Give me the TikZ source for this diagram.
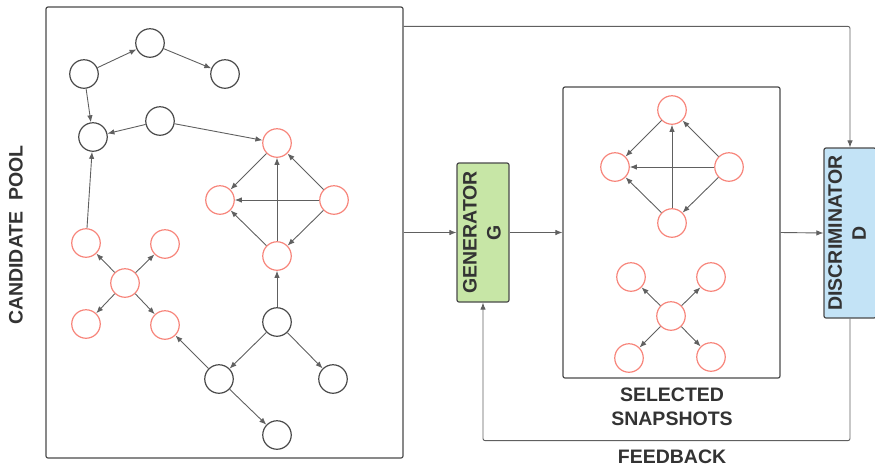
\documentclass[tikz,border=0pt]{standalone}
\usepackage{fontspec}
\setmainfont{Liberation Sans}
\usetikzlibrary{arrows.meta}
\definecolor{linec}{HTML}{606060}
\definecolor{blkc}{HTML}{4A4A4A}
\definecolor{salmon}{HTML}{F7857B}
\definecolor{genfill}{HTML}{C7E6A6}
\definecolor{disfill}{HTML}{C3E3F6}
\definecolor{txtc}{HTML}{333333}
\begin{document}
\begin{tikzpicture}[x=1pt,y=-1pt,
  bn/.style={circle,draw=blkc,line width=1.2pt,minimum size=28.5pt,inner sep=0pt},
  rn/.style={circle,draw=salmon,line width=1.2pt,minimum size=28.5pt,inner sep=0pt},
  arr/.style={draw=linec,line width=0.9pt,-{Latex[length=7pt,width=5.5pt]}},
  box/.style={draw=blkc,line width=1.2pt,rounded corners=2pt,inner sep=0pt},
  lbl/.style={text=txtc,font=\fontsize{19.5}{24}\selectfont\bfseries,align=center,inner sep=0pt}]
\useasboundingbox (0,0) rectangle (875,467);
% boxes
\node[box,minimum width=357pt,minimum height=451pt] (pool) at (224.5,232.5) {};
\node[box,minimum width=217pt,minimum height=291pt] (sel) at (671.5,232.5) {};
\node[box,fill=genfill,minimum width=52pt,minimum height=139pt] (gen) at (483,232.5) {};
\node[lbl,rotate=90] (gent) at (482,232.5) {GENERATOR\\G};
\node[box,fill=disfill,minimum width=52pt,minimum height=170pt] (dis) at (850,233) {};
\node[lbl,rotate=90] (dist) at (847,233) {DISCRIMINATOR\\D};
% labels
\node[lbl,rotate=90] (cpl) at (16,235) {CANDIDATE~~POOL};
\node[lbl] (sell) at (672,406.5) {SELECTED\\SNAPSHOTS};
\node[lbl] (fbl) at (672,457) {FEEDBACK};
% pool nodes
\node[bn] (a) at (84,74) {};
\node[bn] (b) at (150,43) {};
\node[bn] (c) at (225,74) {};
\node[bn] (d) at (93,137) {};
\node[bn] (e) at (160,121) {};
\node[rn] (f) at (277,143) {};
\node[rn] (g) at (220,200) {};
\node[rn] (h) at (334,200) {};
\node[rn] (i) at (277,256) {};
\node[rn] (j) at (86,243) {};
\node[rn] (k) at (165,244) {};
\node[rn] (l) at (125,283) {};
\node[rn] (m) at (86,324) {};
\node[rn] (n) at (165,325) {};
\node[bn] (o) at (277,322) {};
\node[bn] (p) at (219,379) {};
\node[bn] (q) at (333,379) {};
\node[bn] (r) at (277,435) {};
\draw[arr] (a) -- (b);
\draw[arr] (b) -- (c);
\draw[arr] (a) -- (d);
\draw[arr] (e) -- (d);
\draw[arr] (e) -- (f);
\draw[arr] (j) -- (d);
\draw[arr] (f) -- (g);
\draw[arr] (h) -- (f);
\draw[arr] (h) -- (g);
\draw[arr] (i) -- (f);
\draw[arr] (i) -- (g);
\draw[arr] (h) -- (i);
\draw[arr] (o) -- (i);
\draw[arr] (o) -- (p);
\draw[arr] (o) -- (q);
\draw[arr] (p) -- (n);
\draw[arr] (p) -- (r);
\draw[arr] (l) -- (j);
\draw[arr] (l) -- (k);
\draw[arr] (l) -- (m);
\draw[arr] (l) -- (n);
% selected nodes
\node[rn] (s1) at (672,110) {};
\node[rn] (s2) at (615,167) {};
\node[rn] (s3) at (729,167) {};
\node[rn] (s4) at (672,223) {};
\draw[arr] (s1) -- (s2);
\draw[arr] (s3) -- (s1);
\draw[arr] (s3) -- (s2);
\draw[arr] (s4) -- (s1);
\draw[arr] (s4) -- (s2);
\draw[arr] (s3) -- (s4);
\node[rn] (t0) at (671,316) {};
\node[rn] (t1) at (631,277) {};
\node[rn] (t2) at (711,277) {};
\node[rn] (t3) at (629,358) {};
\node[rn] (t4) at (711,357) {};
\draw[arr] (t0) -- (t1);
\draw[arr] (t0) -- (t2);
\draw[arr] (t0) -- (t3);
\draw[arr] (t0) -- (t4);
% flow connectors
\draw[arr] (pool.east) -- (gen.west);
\draw[arr] (gen.east) -- (sel.west);
\draw[arr] (sel.east) -- (dis.west);
\draw[arr,rounded corners=2pt] ([yshift=-20pt]pool.north east) -| (dis.north);
\draw[arr,rounded corners=2pt] (dis.south) -- ++(0,122) -| (gen.south);
\end{tikzpicture}
\end{document}
